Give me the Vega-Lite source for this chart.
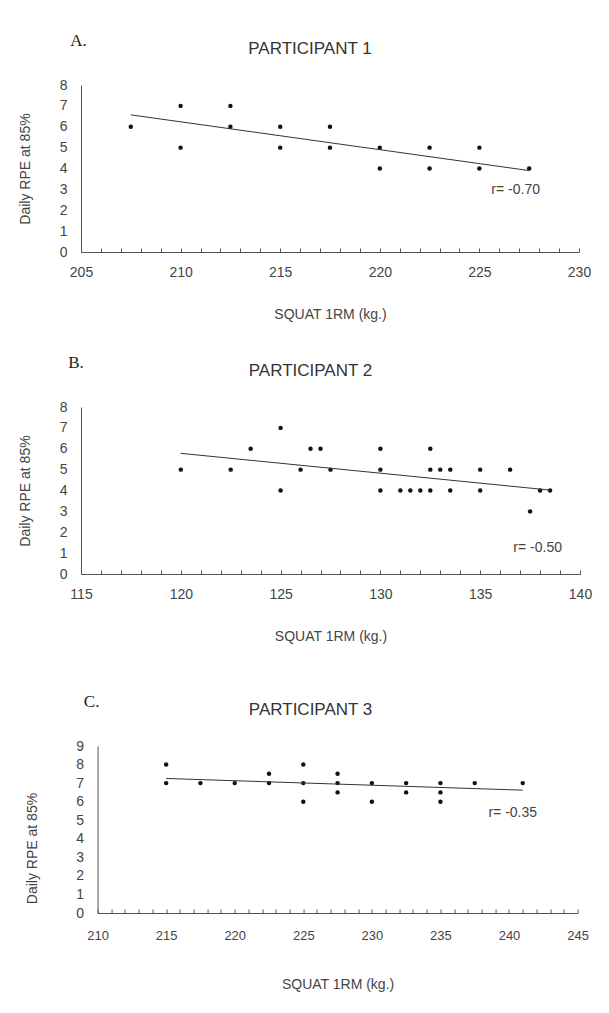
{
  "$schema": "https://vega.github.io/schema/vega-lite/v6.json",
  "background": "white",
  "padding": {"left": 18, "top": 32, "right": 5, "bottom": 5},
  "config": {
    "font": "Liberation Sans",
    "view": {"stroke": null},
    "axis": {"grid": false, "domainColor": "#555", "domainWidth": 1, "labelColor": "#444", "titleColor": "#444", "labelFontSize": 14, "titleFontSize": 14, "titleFontWeight": "normal", "labelOverlap": false},
    "axisX": {"tickColor": "#555", "tickSize": -4, "labelPadding": 17, "titlePadding": 28, "labelFlush": false},
    "axisY": {"ticks": false, "tickSize": 0, "labelPadding": 14, "titlePadding": 27},
    "title": {"fontWeight": "normal", "fontSize": 17, "color": "#333"}
  },
  "datasets": {
    "p1": [
      {"x": 207.5, "y": 6}, {"x": 210, "y": 7}, {"x": 210, "y": 5}, {"x": 212.5, "y": 7}, {"x": 212.5, "y": 6},
      {"x": 215, "y": 6}, {"x": 215, "y": 5}, {"x": 217.5, "y": 6}, {"x": 217.5, "y": 5}, {"x": 220, "y": 5},
      {"x": 220, "y": 4}, {"x": 222.5, "y": 5}, {"x": 222.5, "y": 4}, {"x": 225, "y": 5}, {"x": 225, "y": 4},
      {"x": 227.5, "y": 4}
    ],
    "t1": [{"x": 207.5, "y": 6.57}, {"x": 227.5, "y": 3.9}],
    "r1": [{"x": 225.6, "y": 2.97, "label": "r= -0.70"}],
    "p2": [
      {"x": 120, "y": 5}, {"x": 122.5, "y": 5}, {"x": 123.5, "y": 6}, {"x": 125, "y": 7}, {"x": 125, "y": 4},
      {"x": 126, "y": 5}, {"x": 126.5, "y": 6}, {"x": 127, "y": 6}, {"x": 127.5, "y": 5}, {"x": 130, "y": 6},
      {"x": 130, "y": 5}, {"x": 130, "y": 4}, {"x": 131, "y": 4}, {"x": 131.5, "y": 4}, {"x": 132, "y": 4},
      {"x": 132.5, "y": 6}, {"x": 132.5, "y": 5}, {"x": 132.5, "y": 4}, {"x": 133, "y": 5}, {"x": 133.5, "y": 5},
      {"x": 133.5, "y": 4}, {"x": 135, "y": 5}, {"x": 135, "y": 4}, {"x": 136.5, "y": 5}, {"x": 137.5, "y": 3},
      {"x": 138, "y": 4}, {"x": 138.5, "y": 4}
    ],
    "t2": [{"x": 120, "y": 5.78}, {"x": 138.5, "y": 4.02}],
    "r2": [{"x": 136.66, "y": 1.25, "label": "r= -0.50"}],
    "p3": [
      {"x": 215, "y": 8}, {"x": 215, "y": 7}, {"x": 217.5, "y": 7}, {"x": 220, "y": 7}, {"x": 222.5, "y": 7.5},
      {"x": 222.5, "y": 7}, {"x": 225, "y": 8}, {"x": 225, "y": 7}, {"x": 225, "y": 6}, {"x": 227.5, "y": 7.5},
      {"x": 227.5, "y": 7}, {"x": 227.5, "y": 6.5}, {"x": 230, "y": 7}, {"x": 230, "y": 6}, {"x": 232.5, "y": 7},
      {"x": 232.5, "y": 6.5}, {"x": 235, "y": 7}, {"x": 235, "y": 6.5}, {"x": 235, "y": 6}, {"x": 237.5, "y": 7},
      {"x": 241, "y": 7}
    ],
    "t3": [{"x": 215, "y": 7.25}, {"x": 241, "y": 6.62}],
    "r3": [{"x": 238.5, "y": 5.39, "label": "r= -0.35"}]
  },
  "center": true,
  "spacing": 16,
  "vconcat": [
    {
      "spacing": 33,
      "vconcat": [
        {
          "title": {"text": "A.", "anchor": "start", "font": "Liberation Serif", "fontSize": 17, "color": "#222", "dx": 52, "offset": -10},
          "vconcat": [
            {
              "title": {"text": "PARTICIPANT 1", "anchor": "middle", "frame": "group", "dx": -20, "offset": 20},
              "width": 498,
              "height": 167,
              "encoding": {
                "x": {"field": "x", "type": "quantitative", "scale": {"domain": [205, 230], "nice": false, "zero": false},
                  "axis": {"title": "SQUAT 1RM (kg.)", "values": [205,206,207,208,209,210,211,212,213,214,215,216,217,218,219,220,221,222,223,224,225,226,227,228,229,230], "labelExpr": "datum.value % 5 === 0 ? datum.label : ''"}},
                "y": {"field": "y", "type": "quantitative", "scale": {"domain": [0, 8], "nice": false},
                  "axis": {"title": "Daily RPE at 85%", "values": [0,1,2,3,4,5,6,7,8]}}
              },
              "layer": [
                {"data": {"name": "p1"}, "mark": {"type": "circle", "size": 20, "color": "#111", "opacity": 1}},
                {"data": {"name": "t1"}, "mark": {"type": "line", "color": "#333", "strokeWidth": 1}},
                {"data": {"name": "r1"}, "mark": {"type": "text", "align": "left", "baseline": "middle", "fontSize": 14, "color": "#444"},
                  "encoding": {"text": {"field": "label", "type": "nominal"}}}
              ]
            }
          ]
        },
        {
          "title": {"text": "B.", "anchor": "start", "font": "Liberation Serif", "fontSize": 17, "color": "#222", "dx": 50, "offset": -10},
          "vconcat": [
            {
              "title": {"text": "PARTICIPANT 2", "anchor": "middle", "frame": "group", "dx": -20, "offset": 20},
              "width": 499,
              "height": 167,
              "encoding": {
                "x": {"field": "x", "type": "quantitative", "scale": {"domain": [115, 140], "nice": false, "zero": false},
                  "axis": {"title": "SQUAT 1RM (kg.)", "values": [115,116,117,118,119,120,121,122,123,124,125,126,127,128,129,130,131,132,133,134,135,136,137,138,139,140], "labelExpr": "datum.value % 5 === 0 ? datum.label : ''"}},
                "y": {"field": "y", "type": "quantitative", "scale": {"domain": [0, 8], "nice": false},
                  "axis": {"title": "Daily RPE at 85%", "values": [0,1,2,3,4,5,6,7,8]}}
              },
              "layer": [
                {"data": {"name": "p2"}, "mark": {"type": "circle", "size": 20, "color": "#111", "opacity": 1}},
                {"data": {"name": "t2"}, "mark": {"type": "line", "color": "#333", "strokeWidth": 1}},
                {"data": {"name": "r2"}, "mark": {"type": "text", "align": "left", "baseline": "middle", "fontSize": 14, "color": "#444"},
                  "encoding": {"text": {"field": "label", "type": "nominal"}}}
              ]
            }
          ]
        },
        {
          "data": {"values": []},
          "mark": "point",
          "width": 524,
          "height": 1
        }
      ]
    },
    {
      "title": {"text": "C.", "anchor": "start", "font": "Liberation Serif", "fontSize": 17, "color": "#222", "dx": 58, "offset": -10},
      "vconcat": [
        {
          "title": {"text": "PARTICIPANT 3", "anchor": "middle", "frame": "group", "dx": -27, "offset": 20},
          "width": 480,
          "height": 167,
          "encoding": {
            "x": {"field": "x", "type": "quantitative", "scale": {"domain": [210, 245], "nice": false, "zero": false},
              "axis": {"title": "SQUAT 1RM (kg.)", "labelFontSize": 13, "labelPadding": 20, "titlePadding": 35, "values": [210,211,212,213,214,215,216,217,218,219,220,221,222,223,224,225,226,227,228,229,230,231,232,233,234,235,236,237,238,239,240,241,242,243,244,245], "labelExpr": "datum.value % 5 === 0 ? datum.label : ''"}},
            "y": {"field": "y", "type": "quantitative", "scale": {"domain": [0, 9], "nice": false},
              "axis": {"title": "Daily RPE at 85%", "titlePadding": 36, "titleY": 102, "values": [0,1,2,3,4,5,6,7,8,9]}}
          },
          "layer": [
            {"data": {"name": "p3"}, "mark": {"type": "circle", "size": 20, "color": "#111", "opacity": 1}},
            {"data": {"name": "t3"}, "mark": {"type": "line", "color": "#333", "strokeWidth": 1}},
            {"data": {"name": "r3"}, "mark": {"type": "text", "align": "left", "baseline": "middle", "fontSize": 14, "color": "#444"},
              "encoding": {"text": {"field": "label", "type": "nominal"}}}
          ]
        }
      ]
    }
  ]
}
